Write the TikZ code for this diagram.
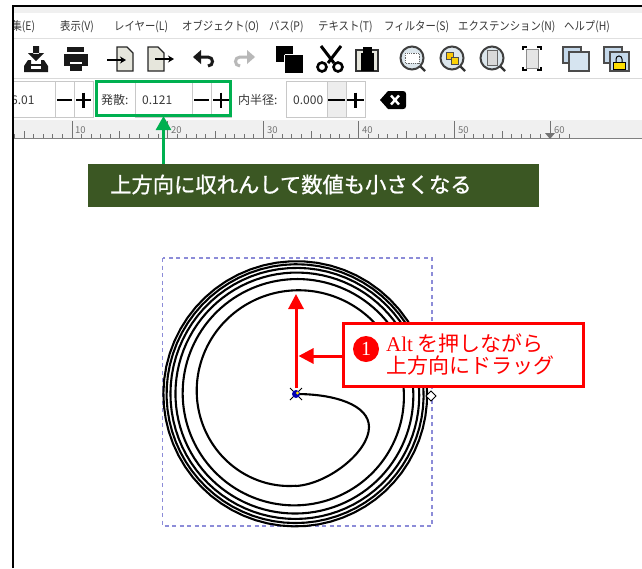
\documentclass[tikz,border=0pt]{standalone}
\usepackage{fontspec}
\newfontfamily\cjk{Noto Sans CJK JP}
\newfontfamily\uisans{Noto Sans CJK JP}
\newfontfamily\menufont[FakeStretch=0.88]{Noto Sans CJK JP}
\newfontfamily\serifl{Liberation Serif}
\usetikzlibrary{arrows.meta,calc}
\definecolor{gbox}{HTML}{00B050}
\definecolor{olive}{HTML}{3B5723}
\definecolor{redc}{HTML}{FF0000}
\definecolor{barg}{HTML}{F0F0F0}
\definecolor{frameg}{HTML}{C8C8C8}
\definecolor{selc}{HTML}{8C8CD8}
\definecolor{iconfill}{HTML}{E6E6DC}
\definecolor{lens}{HTML}{DCE6EC}
\definecolor{lay}{HTML}{C4D8EA}
\tikzset{
 menu/.style={anchor=west,inner sep=0pt,font=\menufont\fontsize{11.8}{12}\selectfont,text=black!78},
 uilabel/.style={anchor=west,inner sep=0pt,font=\uisans\fontsize{12}{12}\selectfont,text=black!78},
 rulerlab/.style={anchor=west,inner sep=0pt,font=\uisans\fontsize{9.5}{10}\selectfont,text=black!55},
 fieldbox/.style={draw=frameg,line width=1pt,fill=white},
 sym/.style={line width=2.2pt,draw=black},
 icon/.style={draw=black!85,line width=1.4pt,fill=iconfill},
 lensic/.style={draw=black!75,line width=2pt,fill=lens},
 calloutbox/.style={draw=redc,line width=2.5pt,fill=white,minimum width=240pt,minimum height=63pt,inner sep=0pt},
 banner/.style={fill=olive,minimum width=451pt,minimum height=43pt,inner sep=0pt},
 greenbox/.style={draw=gbox,line width=2.2pt,minimum width=134pt,minimum height=34pt,inner sep=0pt},
 redarrow/.style={draw=redc,line width=3pt,-{Triangle[length=15pt,width=15pt]}},
 greenarrow/.style={draw=gbox,line width=2.6pt,-{Triangle[length=14pt,width=15pt]}},
}
\begin{document}
\begin{tikzpicture}[x=1pt,y=-1pt]
\useasboundingbox (0,0) rectangle (642,568);
\fill[white] (0,0) rectangle (642,568);
% bars
\fill[barg] (12,6) rectangle (642,13);
\fill[barg] (12,120) rectangle (642,138);
\draw[black!12,line width=.8pt] (12,38.5) -- (642,38.5);
\draw[black!15,line width=.8pt] (12,78.5) -- (642,78.5);
\draw[black!50,line width=1pt] (12,138) -- (642,138);
% control fields
\draw[fieldbox] (12,81) rectangle (55,117);
\draw[fieldbox] (55,81) rectangle (74,117);
\draw[fieldbox] (74,81) rectangle (93,117);
\draw[sym] (57,100) -- (72,100) (76,100) -- (91,100) (83.5,92.5) -- (83.5,107.5);
\draw[fieldbox] (135,81) rectangle (192,117);
\draw[fieldbox] (192,81) rectangle (211,117);
\draw[fieldbox] (211,81) rectangle (231,117);
\draw[sym] (194,100) -- (209,100) (213,100) -- (229,100) (221,92.5) -- (221,107.5);
\draw[fieldbox] (286,81) rectangle (327,117);
\draw[fieldbox,fill=black!7] (327,81) rectangle (346,117);
\draw[fieldbox] (346,81) rectangle (365,117);
\draw[sym] (328,100) -- (345,100) (347,100) -- (364,100) (355.5,92.5) -- (355.5,107.5);
% menu
\begin{scope}
\clip (12,0) rectangle (642,568);
\node[menu] (m1) at (1,27) {編集(E)};
\node[uilabel] (v0) at (11,100) {6.01};
% ruler
\foreach \i in {-2,...,62}{
  \pgfmathsetmacro\xx{-23.6+9.56*\i}
  \pgfmathtruncatemacro\mm{mod(\i+20,10)}
  \pgfmathtruncatemacro\mf{mod(\i+20,5)}
  \ifnum\mm=0
    \draw[black!55,line width=.8pt] (\xx,121) -- (\xx,138);
  \else\ifnum\mf=0
    \draw[black!55,line width=.8pt] (\xx,131) -- (\xx,138);
  \else
    \draw[black!55,line width=.8pt] (\xx,134) -- (\xx,138);
  \fi\fi
}
\end{scope}
\node[menu] (m2) at (60,27) {表示(V)};
\node[menu] (m3) at (114,27) {レイヤー(L)};
\node[menu] (m4) at (182,27) {オブジェクト(O)};
\node[menu] (m5) at (269,27) {パス(P)};
\node[menu] (m6) at (318,27) {テキスト(T)};
\node[menu] (m7) at (384,27) {フィルター(S)};
\node[menu] (m8) at (458,27) {エクステンション(N)};
\node[menu] (m9) at (564,27) {ヘルプ(H)};
\node[rulerlab] (r1) at (75,130) {10};
\node[rulerlab] (r2) at (171,130) {20};
\node[rulerlab] (r3) at (267,130) {30};
\node[rulerlab] (r4) at (362,130) {40};
\node[rulerlab] (r5) at (458,130) {50};
\node[rulerlab] (r6) at (554,130) {60};
\fill[black!55] (545,133) -- (555,133) -- (550,139) -- cycle;
\draw[black!55,line width=.8pt] (550,121) -- (550,134);
% toolbar icons
% save
\fill[black!90] (33,46) rectangle (39,54) (28,53) -- (44,53) -- (36,61) -- cycle;
\fill[black!90] (28,60) -- (31,60) -- (31,64) -- (41,64) -- (41,60) -- (44,60) -- (48,66) -- (48,72) -- (24,72) -- (24,66) -- cycle;
\fill[white] (31,66) rectangle (41,68.5);
% print
\fill[black!90] (67,47) rectangle (84,52);
\fill[black!90] (64,54) rectangle (88,66);
\fill[white] (70,62) rectangle (82,64);
\fill[black!90] (70,64) rectangle (82,71);
% import
\draw[icon] (117,47) -- (127,47) -- (133,53) -- (133,71) -- (117,71) -- cycle;
\draw[black,line width=1.4pt,-{Stealth[length=6pt,width=7pt]}] (107,60) -- (126,60);
% export
\draw[icon] (148,47) -- (158,47) -- (164,53) -- (164,71) -- (148,71) -- cycle;
\draw[black,line width=1.4pt,-{Stealth[length=6pt,width=7pt]}] (155,59) -- (174,59);
% undo
\draw[black!90,line width=3pt] (199,57) -- (208,57) .. controls (214,57) and (214,66) .. (208,66);
\fill[black!90] (193,57) -- (201,50) -- (201,64) -- cycle;
% redo
\draw[black!28,line width=3pt] (249,57) -- (240,57) .. controls (234,57) and (234,66) .. (240,66);
\fill[black!28] (255,57) -- (247,50) -- (247,64) -- cycle;
% copy
\fill[black] (276,46) rectangle (293,62);
\draw[black,fill=black,line width=0pt] (285,55) rectangle (302,72);
\draw[white,line width=1pt] (284.5,54.5) -- (293,54.5) (284.5,54.5) -- (284.5,62);
% scissors
\draw[black,line width=3pt] (321,46) -- (334,63) (341,46) -- (328,63);
\draw[black,line width=2.6pt,fill=white] (322,67) circle[radius=4.5] (338,67) circle[radius=4.5];
% paste
\draw[black!80,line width=1.4pt,fill=iconfill] (356,50) rectangle (378,71);
\fill[black] (361,53) rectangle (374,71);
\fill[black] (363,47) rectangle (372,53);
% zooms
\draw[black!80,line width=2.4pt] (420,66) -- (425,71);
\draw[lensic] (412,58) circle[radius=11.5];
\draw[black!60,line width=.8pt,densely dotted,fill=white] (405,53) rectangle (419,63);
\draw[black!80,line width=2.4pt] (460,66) -- (465,71);
\draw[lensic] (452,58) circle[radius=11.5];
\draw[black!70,line width=.8pt,fill=yellow!60!orange] (446,52) rectangle (453,59);
\draw[black!70,line width=.8pt,fill=yellow!70!orange] (451,57) rectangle (458,64);
\draw[black!80,line width=2.4pt] (500,66) -- (505,71);
\draw[lensic] (492,58) circle[radius=11.5];
\draw[black!60,line width=.8pt,fill=black!15] (487,50) rectangle (497,65);
% drawing
\draw[black!45,line width=.8pt,fill=black!10] (526,49) rectangle (538,68);
\draw[black,line width=1.6pt] (523,50) -- (523,47) -- (527,47) (537,47) -- (541,47) -- (541,50) (541,67) -- (541,70) -- (537,70) (527,70) -- (523,70) -- (523,67);
% layers
\draw[black!70,line width=1.3pt,fill=lay] (563,47) rectangle (581,63);
\draw[black!70,line width=1.3pt,fill=lay!70] (569,52) rectangle (589,71);
\draw[black!70,line width=1.3pt,fill=lay] (604,47) rectangle (622,63);
\draw[black!70,line width=1.3pt,fill=lay] (610,52) rectangle (629,71);
\draw[black,line width=1pt] (616,62) -- (616,59) .. controls (616,55) and (622,55) .. (622,59) -- (622,62);
\draw[black,line width=1pt,fill=yellow!80!orange] (613,62) rectangle (625,69);
\node[uilabel] (lbl1) at (101,100) {発散:};
\node[uilabel] (v1) at (142,100) {0.121};
\node[uilabel] (lbl2) at (238,100) {内半径:};
\node[uilabel] (v2) at (293,100) {0.000};
\fill[black] (380,100) -- (388,91) -- (403,91) .. controls (405,91) and (406,92) .. (406,94) -- (406,106) .. controls (406,108) and (405,109) .. (403,109) -- (388,109) -- cycle;
\draw[white,line width=2.4pt] (391,95.5) -- (399,104.5) (399,95.5) -- (391,104.5);
% green box & banner
\node[greenbox] (gb) at (163.5,98.5) {};
\node[banner] (ban) at (313.5,185.5) {};
\node[anchor=west,inner sep=0pt,text=white,font=\cjk\fontsize{21.3}{22}\selectfont] (bant) at (110,184.5) {\addfontfeature{FakeBold=1}上方向に収れんして数値も小さくなる};
\coordinate (gs) at (163.5,164);
\coordinate (ge) at (163.5,116);
\draw[greenarrow] (gs) -- (ge);
% selection
\draw[selc,line width=1.1pt,dash pattern=on 4pt off 3.5pt] (162.5,258) rectangle (432,526);
% spiral
\coordinate (cen) at (296,394);
\draw[black,line width=2.1pt,line join=round,line cap=round] (cen)
  .. controls (335,394) and (369,405) .. (369,427)
  .. controls (369,452) and (328,484) .. (296,486)
  -- plot[samples=700,domain=0.347:1,variable=\u] ({296+134*pow(\u,0.363)*cos(2160*\u*\u*\u)},{394.5+134*pow(\u,0.363)*sin(2160*\u*\u*\u)});
% handles
\draw[black,line width=.8pt,fill=white] (431,391) -- (436,396) -- (431,401) -- (426,396) -- cycle;
\draw[black,line width=.8pt] (290,388) -- (302,400) (302,388) -- (290,400);
\fill[blue!70!black] (296,394) circle[radius=4];
\fill[yellow!85!orange] (297.5,393) circle[radius=1.6];
% callout
\node[calloutbox] (cb) at (463.5,355) {};
\node[circle,fill=redc,minimum size=26pt,inner sep=0pt,text=white,font=\serifl\fontsize{20}{20}\selectfont] (num) at (366,349) {1};
\node[anchor=west,inner sep=0pt,text=redc,font=\cjk\fontsize{21}{22}\selectfont] (t1) at (386,343) {{\serifl Alt} を押しながら};
\node[anchor=west,inner sep=0pt,text=redc,font=\cjk\fontsize{21}{22}\selectfont] (t2) at (386,366) {上方向にドラッグ};
\coordinate (ra) at (296,388);
\coordinate (rb) at (296,294);
\draw[redarrow] (ra) -- (rb);
\draw[redarrow] (cb.west) ++(0,1) -- (298.5,356);
% window frame
\draw[black,line width=2pt] (12.5,568) -- (12.5,5.5) -- (642,5.5);
\end{tikzpicture}
\end{document}
